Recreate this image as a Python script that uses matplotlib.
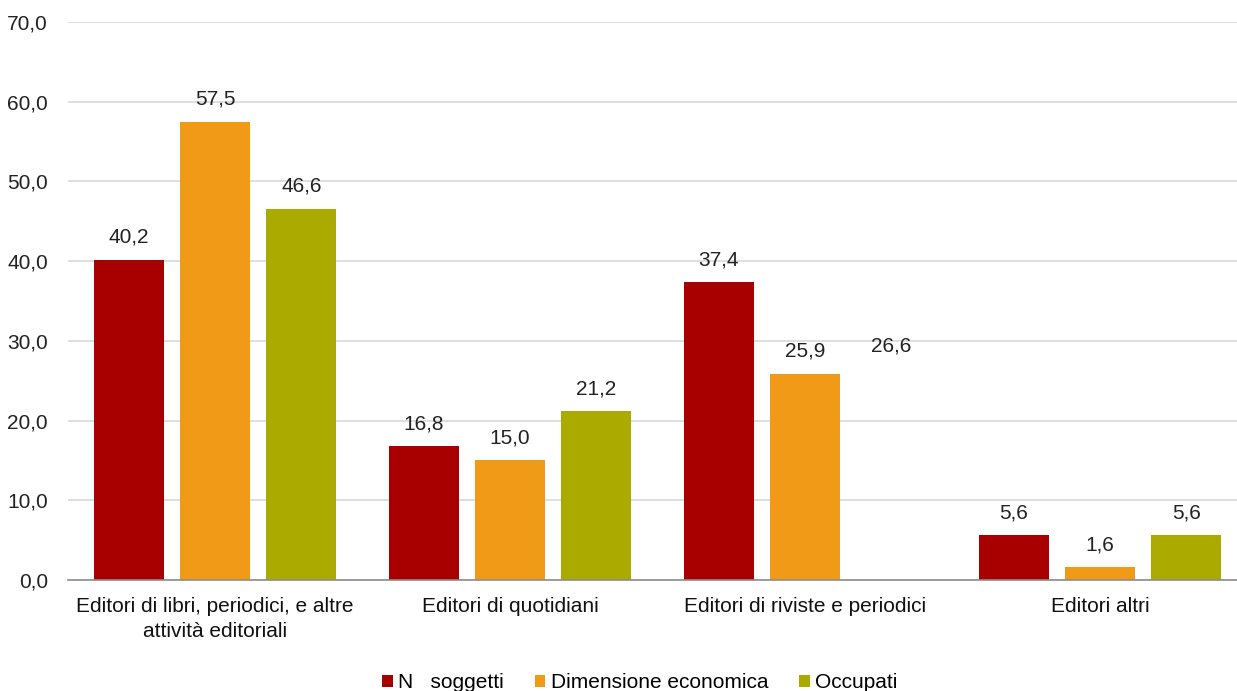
import numpy as np
import matplotlib.pyplot as plt

# Quote percentuali per tipologia di editore
categorie = ['Editori di libri, periodici, e altre\nattività editoriali',
             'Editori di quotidiani',
             'Editori di riviste e periodici',
             'Editori altri']
serie = ['N   soggetti', 'Dimensione economica', 'Occupati']
n_soggetti = [40.2, 16.8, 37.4, 5.6]
dimensione_economica = [57.5, 15.0, 25.9, 1.6]
occupati = [46.6, 21.2, 26.6, 5.6]

colori = ['#A80000', '#F09A17', '#AAAA00']

plt.rcParams['font.family'] = ['Liberation Sans', 'DejaVu Sans']

fig = plt.figure(figsize=(12.37, 6.91), dpi=100)
ax = fig.add_axes([67.5 / 1237, 1 - 580 / 691, 1180 / 1237, 558 / 691])

x = np.arange(len(categorie))
larghezza = 0.237
passo = 0.293
valori = [n_soggetti, dimensione_economica, occupati]

for i, (nome, vals, col) in enumerate(zip(serie, valori, colori)):
    pos = x + (i - 1) * passo
    bars = ax.bar(pos, vals, width=larghezza, color=col, label=nome, zorder=2)
    # the Occupati bar for riviste e periodici is not filled
    if i == 2:
        bars[2].set_facecolor('none')
    for p, v in zip(pos, vals):
        ax.text(p, v + 1.6, f'{v:.1f}'.replace('.', ','), ha='center', va='bottom',
                fontsize=15, color='#222222')

ax.set_xlim(-0.5, len(categorie) - 0.5)
ax.set_ylim(0, 70)
ax.set_yticks(np.arange(0, 71, 10))
ax.set_yticklabels([f'{t:.1f}'.replace('.', ',') for t in np.arange(0, 71, 10)])
ax.set_xticks(x)
ax.set_xticklabels(categorie, linespacing=1.4)
ax.tick_params(axis='y', length=0, pad=14, labelsize=15, labelcolor='#222222')
ax.tick_params(axis='x', length=0, pad=12, labelsize=15, labelcolor='#111111')
ax.grid(axis='y', color='#d9d9d9', linewidth=1.2, zorder=0)
for s in ['top', 'right', 'left']:
    ax.spines[s].set_visible(False)
ax.spines['bottom'].set_color('#8c8c8c')
ax.spines['bottom'].set_linewidth(1.2)

ax.legend(loc='lower center', bbox_to_anchor=(0.485, -0.235), ncol=3, frameon=False,
          fontsize=15, handlelength=0.5, handleheight=0.5, handletextpad=0.25,
          columnspacing=1.5)

fig.savefig('out.png', dpi=100)
